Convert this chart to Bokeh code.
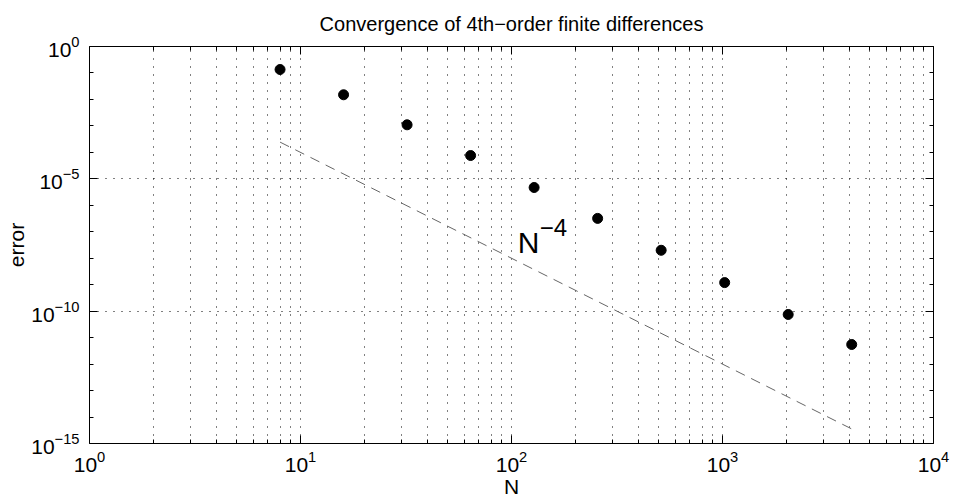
from bokeh.plotting import figure
from bokeh.models import (FixedTicker, LogAxis, Label, Range1d, CustomJSTickFormatter,
                          LogTickFormatter)
from bokeh.embed import file_html
from bokeh.resources import INLINE

# ---- data ----
N = [8, 16, 32, 64, 128, 256, 512, 1024, 2048, 4096]
error = [1.35e-1, 1.5e-2, 1.1e-3, 7.6e-5, 4.7e-6, 3.2e-7, 2.0e-8, 1.2e-9, 7.5e-11, 5.5e-12]
ref_N = [8, 4096]
ref_err = [2.44e-4, 3.55e-15]          # N^-4 reference line

x_major = [1.0, 10.0, 100.0, 1000.0, 10000.0]
y_major = [1.0, 1e-5, 1e-10, 1e-15]
x_minor = [m * 10.0 ** k for k in range(0, 4) for m in range(2, 10)]
y_minor = [10.0 ** (-k) for k in range(1, 15) if k % 5 != 0]

title_text = "Convergence of 4th\u2212order finite differences"
FONT = "Liberation Sans"

p = figure(frame_width=844, frame_height=397, x_axis_type="log", y_axis_type="log",
           x_range=Range1d(1, 1e4), y_range=Range1d(1e-15, 1),
           output_backend="svg", toolbar_location=None,
           min_border_left=89, min_border_right=20,
           min_border_top=46, min_border_bottom=61)
p.background_fill_color = "white"
p.border_fill_color = "white"
p.outline_line_color = "black"
p.outline_line_width = 1

p.title.text = title_text
p.title.align = "center"
p.title.vertical_align = "top"
p.title.text_font = FONT
p.title.text_font_size = "20px"
p.title.text_font_style = "normal"
p.title.text_color = "black"
p.title.standoff = 20

blank = CustomJSTickFormatter(code="return ''")


def style_axis(ax, ticker):
    ax.ticker = ticker
    ax.major_tick_in = 8
    ax.major_tick_out = 0
    ax.minor_tick_in = 4
    ax.minor_tick_out = 0
    ax.axis_line_color = None
    ax.major_tick_line_color = "black"
    ax.minor_tick_line_color = "black"
    ax.major_label_text_font = FONT
    ax.major_label_text_font_size = "21px"
    ax.major_label_text_color = "black"


xt = FixedTicker(ticks=x_major, minor_ticks=x_minor)
yt = FixedTicker(ticks=y_major, minor_ticks=y_minor)
bottom = p.xaxis[0]
left = p.yaxis[0]
style_axis(bottom, xt)
style_axis(left, yt)
bottom.formatter = LogTickFormatter()
left.formatter = LogTickFormatter()
bottom.major_label_standoff = 7
left.major_label_standoff = 10
top = LogAxis()
right = LogAxis()
style_axis(top, xt)
style_axis(right, yt)
top.formatter = blank
right.formatter = blank
top.major_label_standoff = 0
right.major_label_standoff = 0
p.add_layout(top, "above")
p.add_layout(right, "right")

bottom.axis_label = "N"
left.axis_label = "error"
for ax in (bottom, left):
    ax.axis_label_text_font = FONT
    ax.axis_label_text_font_size = "21px"
    ax.axis_label_text_font_style = "normal"
    ax.axis_label_text_color = "black"
bottom.axis_label_standoff = 0
left.axis_label_standoff = 0

# grids
p.xgrid.ticker = xt
p.ygrid.ticker = yt
p.xgrid.grid_line_color = "black"
p.xgrid.grid_line_dash = "1 7"
p.xgrid.minor_grid_line_color = "black"
p.xgrid.minor_grid_line_dash = "1 7"
p.ygrid.grid_line_color = "black"
p.ygrid.grid_line_dash = "1 7"
p.ygrid.minor_grid_line_color = None

# data
p.line(ref_N, ref_err, line_color="#666666", line_dash="10 7", line_width=1)
p.scatter(N, error, size=10, color="black")

# N^-4 annotation
p.add_layout(Label(x=107, y=4e-8, text="N", text_font=FONT, text_font_size="30px",
                   text_baseline="alphabetic", text_color="black"))
p.add_layout(Label(x=107, y=4e-8, text="\u22124", x_offset=22, y_offset=15,
                   text_font=FONT, text_font_size="24px",
                   text_baseline="alphabetic", text_color="black"))

open("out.html", "w").write(file_html(p, INLINE))
